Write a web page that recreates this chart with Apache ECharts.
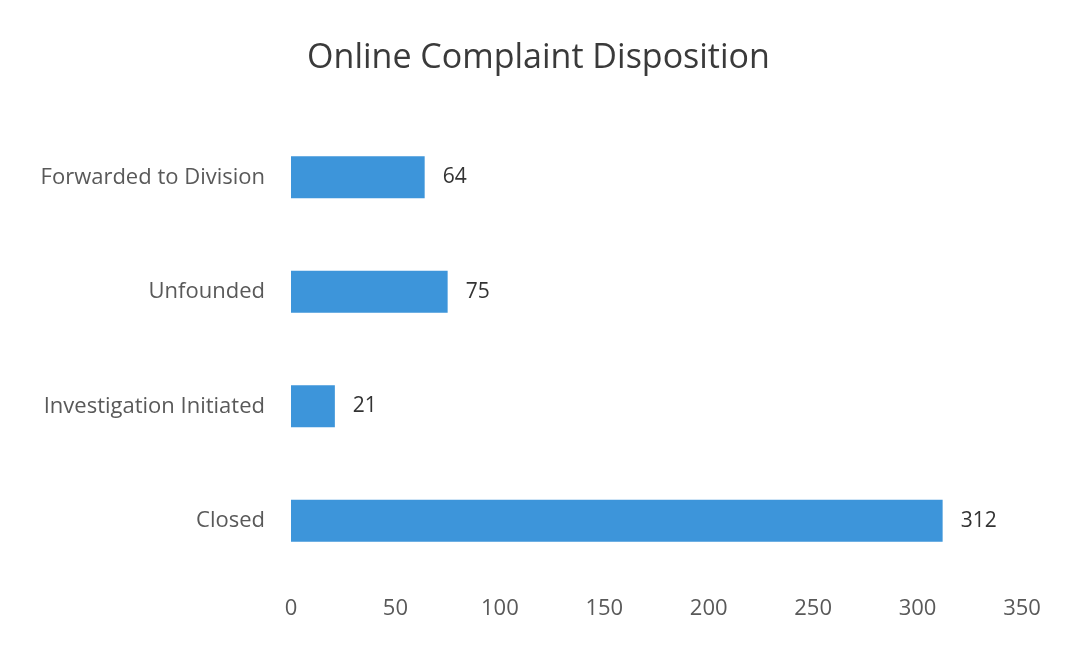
<!DOCTYPE html>
<html>
<head>
<meta charset="utf-8">
<script src="https://cdn.jsdelivr.net/npm/echarts@6/dist/echarts.min.js"></script>
<style>
  html, body { margin:0; padding:0; background:#fff; }
  #chart { width:1077px; height:647px; }
</style>
</head>
<body>
<div id="chart"></div>
<script>
// bottom to top, as drawn on the category axis
const categories = ['Closed', 'Investigation Initiated', 'Unfounded', 'Forwarded to Division'];
const counts = [312, 21, 75, 64];
const xTicks = [0, 50, 100, 150, 200, 250, 300, 350];

const myChart = echarts.init(document.getElementById('chart'));
const font = '"Open Sans", "Noto Sans", sans-serif';

let option = {
    backgroundColor: '#fff',
    title: {
        text: 'Online Complaint Disposition',
        left: 'center',
        top: 36,
        textStyle: { fontFamily: font, fontSize: 34, fontWeight: 'normal', color: '#3a3a3a' }
    },
    grid: { left: 291, right: 55, top: 120, bottom: 69 },
    xAxis: {
        type: 'value',
        min: xTicks[0],
        max: xTicks[xTicks.length - 1],
        interval: 50,
        axisLine: { show: false },
        axisTick: { show: false },
        splitLine: { show: false },
        axisLabel: { color: '#595959', fontFamily: font, fontSize: 22, margin: 20 }
    },
    yAxis: {
        type: 'category',
        data: categories,
        axisLine: { show: false },
        axisTick: { show: false },
        axisLabel: { color: '#595959', fontFamily: font, fontSize: 22, margin: 26 }
    },
    series: [{
        type: 'bar',
        data: counts,
        barWidth: 42,
        itemStyle: { color: '#3d95da' },
        label: {
            show: true,
            position: 'right',
            distance: 18,
            color: '#333',
            fontFamily: font,
            fontSize: 21
        }
    }]
};
myChart.setOption(option);
</script>
</body>
</html>
